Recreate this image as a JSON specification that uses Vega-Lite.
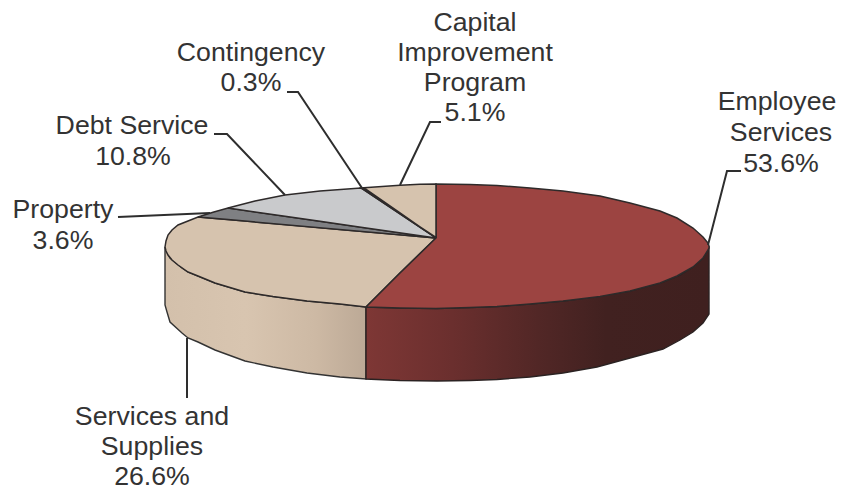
{
"$schema":"https://vega.github.io/schema/vega-lite/v6.json",
"width":842,"height":493,"autosize":{"type":"fit","contains":"padding"},"padding":0,
"background":"white","view":{"stroke":null},
"datasets":{
"wallTan":[{"x":165,"y":247,"y2":305},{"x":167,"y":252,"y2":312},{"x":170,"y":258,"y2":322},{"x":182,"y":268,"y2":333},{"x":188,"y":272,"y2":338},{"x":198,"y":276,"y2":342},{"x":215,"y":283,"y2":350},{"x":245,"y":292,"y2":361},{"x":273,"y":296.5,"y2":367},{"x":307,"y":301,"y2":373},{"x":340,"y":304,"y2":377},{"x":366,"y":307,"y2":379}],
"wallRed":[{"x":366,"y":307,"y2":379},{"x":400,"y":308,"y2":380.5},{"x":437,"y":308.5,"y2":381},{"x":470,"y":307.5,"y2":380.5},{"x":497,"y":306.5,"y2":379.5},{"x":530,"y":304,"y2":377},{"x":563,"y":301,"y2":373},{"x":597,"y":296.5,"y2":367},{"x":630,"y":291,"y2":358},{"x":663,"y":282,"y2":349},{"x":680,"y":275,"y2":340},{"x":693,"y":267,"y2":332},{"x":703,"y":258,"y2":323},{"x":709,"y":248,"y2":314}],
"top":[
{"slice":"Services and Supplies","x":165,"y":247,"y2":247},{"slice":"Services and Supplies","x":166,"y":241,"y2":251},{"slice":"Services and Supplies","x":168,"y":235,"y2":255},{"slice":"Services and Supplies","x":172,"y":230,"y2":260},{"slice":"Services and Supplies","x":178,"y":225,"y2":265},{"slice":"Services and Supplies","x":188,"y":221,"y2":272},{"slice":"Services and Supplies","x":198,"y":217,"y2":276},{"slice":"Services and Supplies","x":215,"y":218.5,"y2":283},{"slice":"Services and Supplies","x":245,"y":221.1,"y2":292},{"slice":"Services and Supplies","x":273,"y":223.6,"y2":296.5},{"slice":"Services and Supplies","x":307,"y":226.6,"y2":301},{"slice":"Services and Supplies","x":340,"y":229.5,"y2":304},{"slice":"Services and Supplies","x":366,"y":231.8,"y2":307},{"slice":"Services and Supplies","x":400,"y":234.8,"y2":273},{"slice":"Services and Supplies","x":436,"y":238,"y2":238},
{"slice":"Employee Services","x":366,"y":307,"y2":307},{"slice":"Employee Services","x":400,"y":273,"y2":308},{"slice":"Employee Services","x":436,"y":238,"y2":308.5},{"slice":"Employee Services","x":436.01,"y":184,"y2":308.5},{"slice":"Employee Services","x":470,"y":184.5,"y2":307.5},{"slice":"Employee Services","x":497,"y":185.5,"y2":306.5},{"slice":"Employee Services","x":530,"y":188,"y2":304},{"slice":"Employee Services","x":563,"y":191,"y2":301},{"slice":"Employee Services","x":600,"y":196,"y2":296.5},{"slice":"Employee Services","x":630,"y":203,"y2":291},{"slice":"Employee Services","x":660,"y":211,"y2":283},{"slice":"Employee Services","x":677,"y":218,"y2":276},{"slice":"Employee Services","x":693,"y":228,"y2":267},{"slice":"Employee Services","x":703,"y":237,"y2":258},{"slice":"Employee Services","x":708,"y":243,"y2":250},{"slice":"Employee Services","x":709,"y":246,"y2":248},
{"slice":"Property","x":198,"y":217,"y2":217},{"slice":"Property","x":213,"y":212.2,"y2":218.3},{"slice":"Property","x":228,"y":208,"y2":219.6},{"slice":"Property","x":436,"y":238,"y2":238},
{"slice":"Debt Service","x":228,"y":208,"y2":208},{"slice":"Debt Service","x":255,"y":201,"y2":211.9},{"slice":"Debt Service","x":285,"y":195,"y2":216.2},{"slice":"Debt Service","x":320,"y":191,"y2":221.3},{"slice":"Debt Service","x":361,"y":188,"y2":227.2},{"slice":"Debt Service","x":436,"y":238,"y2":238},
{"slice":"Contingency","x":361,"y":188,"y2":188},{"slice":"Contingency","x":364,"y":187.8,"y2":190},{"slice":"Contingency","x":436,"y":238,"y2":238},
{"slice":"Capital Improvement Program","x":364,"y":187.8,"y2":187.8},{"slice":"Capital Improvement Program","x":400,"y":185.3,"y2":212.9},{"slice":"Capital Improvement Program","x":420,"y":184.3,"y2":226.8},{"slice":"Capital Improvement Program","x":435.99,"y":184,"y2":237.5},{"slice":"Capital Improvement Program","x":436,"y":238,"y2":238}
],
"leaders":[
{"k":"Employee Services","i":1,"x":708,"y":245},{"k":"Employee Services","i":2,"x":727,"y":171},{"k":"Employee Services","i":3,"x":741,"y":171},
{"k":"Capital","i":1,"x":400,"y":185},{"k":"Capital","i":2,"x":430,"y":122},{"k":"Capital","i":3,"x":441,"y":122},
{"k":"Contingency","i":1,"x":287,"y":92},{"k":"Contingency","i":2,"x":298,"y":92},{"k":"Contingency","i":3,"x":362,"y":188},
{"k":"Debt","i":1,"x":214,"y":134},{"k":"Debt","i":2,"x":227,"y":134},{"k":"Debt","i":3,"x":285,"y":195},
{"k":"Property","i":1,"x":118,"y":217},{"k":"Property","i":2,"x":210,"y":213},
{"k":"Services","i":1,"x":187,"y":338},{"k":"Services","i":2,"x":187,"y":398}
],
"labels":[
{"t":"Capital","x":475,"y":23},{"t":"Improvement","x":475,"y":53},{"t":"Program","x":475,"y":83},{"t":"5.1%","x":475,"y":113},
{"t":"Contingency","x":251,"y":53},{"t":"0.3%","x":251,"y":83},
{"t":"Debt Service","x":132,"y":126},{"t":"10.8%","x":133,"y":157},
{"t":"Property","x":63,"y":210},{"t":"3.6%","x":63,"y":241},
{"t":"Employee","x":777,"y":102},{"t":"Services","x":781,"y":133},{"t":"53.6%","x":781,"y":164},
{"t":"Services and","x":152,"y":417},{"t":"Supplies","x":152,"y":447},{"t":"26.6%","x":152,"y":477}
]
},
"encoding":{
"x":{"field":"x","type":"quantitative","scale":{"domain":[0,842],"nice":false,"zero":false},"axis":null},
"y":{"field":"y","type":"quantitative","scale":{"domain":[493,0],"nice":false,"zero":false},"axis":null,"stack":null}
},
"layer":[
{"data":{"name":"wallTan"},
"mark":{"type":"area","stroke":"#333333","strokeWidth":1.4,"fill":{"gradient":"linear","x1":0,"y1":0,"x2":1,"y2":0,"stops":[{"offset":0,"color":"#d3c0ab"},{"offset":0.4,"color":"#d8c5b0"},{"offset":0.75,"color":"#cdb9a4"},{"offset":1,"color":"#bca996"}]}},
"encoding":{"y2":{"field":"y2"}}},
{"data":{"name":"wallRed"},
"mark":{"type":"area","stroke":"#2b2222","strokeWidth":1.4,"fill":{"gradient":"linear","x1":0,"y1":0,"x2":1,"y2":0,"stops":[{"offset":0,"color":"#7e3735"},{"offset":0.25,"color":"#6b2f2e"},{"offset":0.5,"color":"#522726"},{"offset":0.7,"color":"#412120"},{"offset":1,"color":"#3f201f"}]}},
"encoding":{"y2":{"field":"y2"}}},
{"data":{"name":"top"},
"mark":{"type":"area","stroke":"#2e2a2a","strokeWidth":1.5,"opacity":1},
"encoding":{"y2":{"field":"y2"},
"color":{"field":"slice","type":"nominal","legend":null,"scale":{"domain":["Employee Services","Services and Supplies","Property","Debt Service","Contingency","Capital Improvement Program"],"range":["#9c4441","#d6c3ae","#7f8083","#c9cacc","#333333","#d6c3ae"]}}}},
{"data":{"name":"leaders"},
"mark":{"type":"line","color":"#2e2e2e","strokeWidth":2},
"encoding":{"detail":{"field":"k"},"order":{"field":"i","type":"quantitative"}}},
{"data":{"name":"labels"},
"mark":{"type":"text","font":"Liberation Sans","fontSize":26.7,"color":"#333333","align":"center","baseline":"middle"},
"encoding":{"text":{"field":"t","type":"nominal"}}}
]
}
